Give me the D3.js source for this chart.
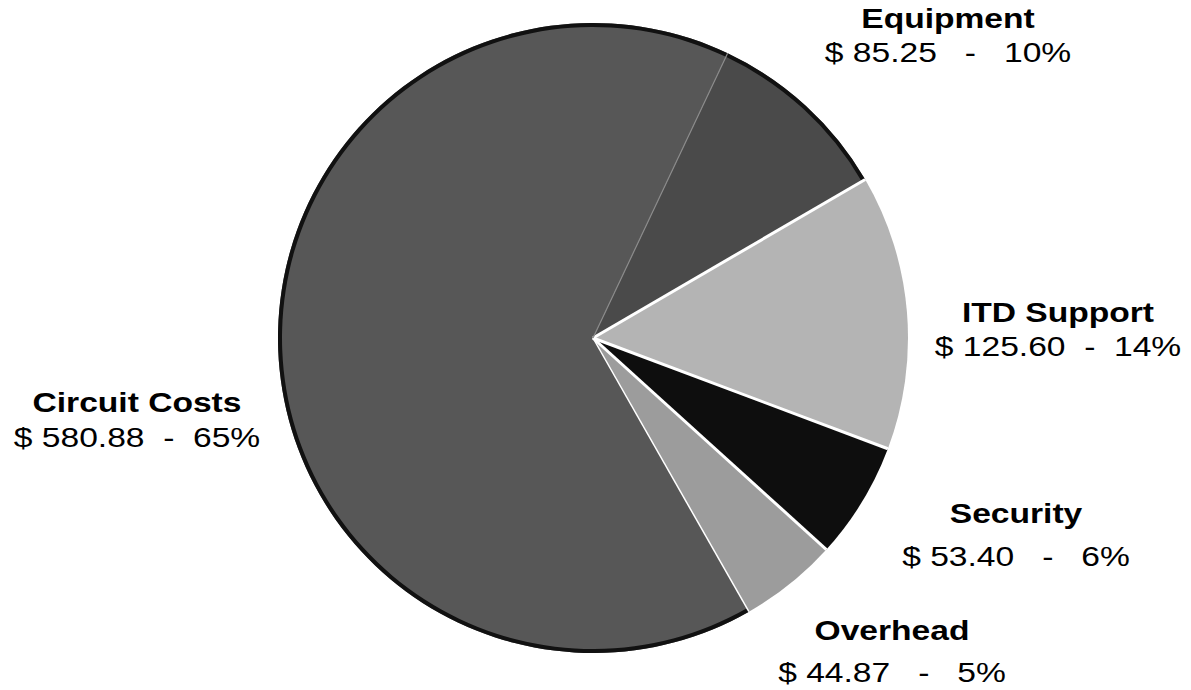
<!DOCTYPE html>
<html>
<head>
<meta charset="utf-8">
<script src="https://cdn.jsdelivr.net/npm/d3@7"></script>
<style>
  html, body { margin: 0; padding: 0; background: #fff; }
  svg { display: block; }
</style>
</head>
<body>
<svg id="chart" width="1191" height="690"></svg>
<script>
// ---- data ----
const categories = ["Equipment", "ITD Support", "Security", "Overhead", "Circuit Costs"];
const amounts = [85.25, 125.60, 53.40, 44.87, 580.88];
const percents = [10, 14, 6, 5, 65];

// ---- styling / layout ----
const fills = ["#4a4a4a", "#b4b4b4", "#0e0e0e", "#9c9c9c", "#575757"];
const rimSlices = ["Equipment", "Circuit Costs"];
const gapSpaces = [3, 2, 3, 3, 2];
const labelLayout = [
  { x: 948, y: 28, dy: 34 },
  { x: 1058, y: 322, dy: 34 },
  { x: 1016, y: 523, dy: 43 },
  { x: 892, y: 640, dy: 42 },
  { x: 137, y: 412, dy: 35 }
];

const W = 1191, H = 690;
const cx = 593, cy = 338, R = 315;
const startDeg = 25.3;

const svg = d3.select("#chart");
const data = categories.map((c, i) => ({ name: c, value: amounts[i], pct: percents[i], i }));

const pie = d3.pie()
  .sort(null)
  .value(d => d.value)
  .startAngle(startDeg * Math.PI / 180)
  .endAngle(startDeg * Math.PI / 180 + 2 * Math.PI);

const arcs = pie(data);
const arc = d3.arc().innerRadius(0).outerRadius(R);
const rim = d3.arc().innerRadius(R - 4).outerRadius(R);

const g = svg.append("g").attr("transform", `translate(${cx},${cy})`);

g.selectAll("path.slice")
  .data(arcs)
  .join("path")
  .attr("class", "slice")
  .attr("d", arc)
  .attr("fill", d => fills[d.data.i]);

g.selectAll("path.rim")
  .data(arcs.filter(d => rimSlices.includes(d.data.name)))
  .join("path")
  .attr("class", "rim")
  .attr("d", rim)
  .attr("fill", "#111");

// white separators between slices (radial lines)
g.selectAll("line.sep")
  .data(arcs.filter(d => d.data.name !== "Equipment"))
  .join("line")
  .attr("class", "sep")
  .attr("x1", 0).attr("y1", 0)
  .attr("x2", d => R * Math.sin(d.startAngle))
  .attr("y2", d => -R * Math.cos(d.startAngle))
  .attr("stroke", "#fff")
  .attr("stroke-width", d => d.data.name === "Circuit Costs" ? 1.5 : 3);

// faint separator between Circuit Costs and Equipment
g.append("line")
  .attr("x1", 0).attr("y1", 0)
  .attr("x2", R * Math.sin(arcs[0].startAngle))
  .attr("y2", -R * Math.cos(arcs[0].startAngle))
  .attr("stroke", "#8a8a8a")
  .attr("stroke-width", 1.2);

// ---- labels ----
const labels = svg.append("g").selectAll("g.label")
  .data(data)
  .join("g")
  .attr("class", "label")
  .attr("transform", d => `translate(${labelLayout[d.i].x},${labelLayout[d.i].y}) scale(1.2,1)`);

labels.append("text")
  .attr("text-anchor", "middle")
  .attr("font-family", "'Liberation Sans', Arial, sans-serif")
  .attr("font-size", 28)
  .attr("font-weight", "bold")
  .attr("fill", "#000")
  .text(d => d.name);

labels.append("text")
  .attr("text-anchor", "middle")
  .attr("y", d => labelLayout[d.i].dy)
  .attr("font-family", "'Liberation Sans', Arial, sans-serif")
  .attr("font-size", 28)
  .attr("fill", "#000")
  .style("white-space", "pre")
  .text(d => {
    const sp = " ".repeat(gapSpaces[d.i]);
    return `$ ${d.value.toFixed(2)}${sp}-${sp}${d.pct}%`;
  });
</script>
</body>
</html>
